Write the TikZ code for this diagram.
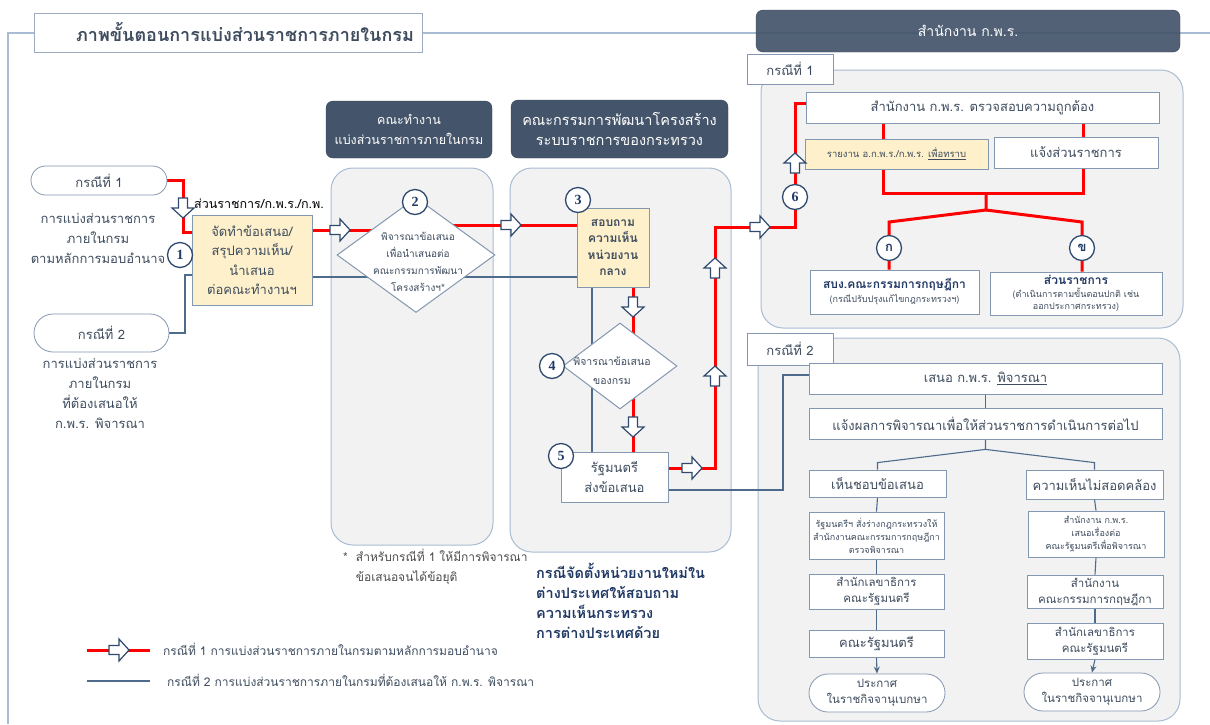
\documentclass[tikz,border=0pt]{standalone}
\usepackage{fontspec}
\setmainfont[Script=Thai]{Loma}
\newfontfamily\numfont{Liberation Serif}
\usetikzlibrary{shapes.geometric,shapes.misc,arrows.meta,calc}
\pgfdeclarelayer{panel}
\pgfdeclarelayer{bg}
\pgfsetlayers{panel,bg,main}
\definecolor{txt}{HTML}{3E4C5E}
\definecolor{hdrc}{HTML}{44546A}
\definecolor{pnl}{HTML}{F2F2F2}
\definecolor{pnld}{HTML}{A9BCD3}
\definecolor{boxc}{HTML}{8497B0}
\definecolor{bl}{HTML}{4F6B8C}
\definecolor{arrc}{HTML}{2F4A6E}
\definecolor{yel}{HTML}{FDF0CA}
\definecolor{navy}{HTML}{1F3864}
\definecolor{redc}{HTML}{FF0000}
\newcommand\myfs[2]{\fontsize{#1}{#2}\selectfont}
\begin{document}
\begin{tikzpicture}[x=1pt,y=-1pt,
  box/.style={draw=boxc, fill=white, line width=0.8pt, align=center, text=txt, inner sep=1pt, font=\myfs{12}{16}},
  ybox/.style={box, fill=yel},
  oval/.style={box, rounded rectangle},
  hdr/.style={fill=hdrc, draw=hdrc!85!black, rounded corners=7pt, text=white, align=center, font=\myfs{14}{20}},
  panelbox/.style={fill=pnl, draw=pnld, line width=1pt, rounded corners=22pt},
  num/.style={circle, draw=arrc, fill=white, line width=1.3pt, minimum size=25pt, inner sep=0pt, text=navy, font=\numfont\bfseries\myfs{14}{14}},
  tnum/.style={num, font=\bfseries\myfs{13}{13}},
  plain/.style={align=center, text=txt, inner sep=0pt},
  redl/.style={draw=redc, line width=3pt},
  bluel/.style={draw=bl, line width=1.1pt},
  framel/.style={draw=pnld, line width=1.2pt},
  harrow/.pic={\draw[draw=arrc, fill=white, line width=1.2pt, line join=miter]
     (-10,-4.5) -- (0,-4.5) -- (0,-11) -- (10,0) -- (0,11) -- (0,4.5) -- (-10,4.5) -- cycle;}
]
\useasboundingbox (0,0) rectangle (1210,724);

% ---------- panels / frame ----------
\begin{pgfonlayer}{panel}
\draw[framel] (1210,33) -- (8,33) -- (8,724);
\node[panelbox, minimum width=162pt, minimum height=377pt] (p1) at (412,356.5) {};
\node[panelbox, minimum width=221pt, minimum height=384pt] (p2) at (620.5,360) {};
\node[panelbox, minimum width=422pt, minimum height=258pt] (pc1) at (972,199) {};
\node[panelbox, minimum width=422pt, minimum height=383pt] (pc2) at (969,529.5) {};
\end{pgfonlayer}

% ---------- headers ----------
\node[box, draw=boxc!80, minimum width=388pt, minimum height=39pt, font=\bfseries\myfs{18}{20}] (title) at (228,32.5) {\hspace*{34pt}ภาพขั้นตอนการแบ่งส่วนราชการภายในกรม};
\node[hdr, minimum width=166pt, minimum height=57pt, font=\myfs{12.5}{20}] (h1) at (409,129.5) {คณะทำงาน\\แบ่งส่วนราชการภายในกรม};
\node[hdr, minimum width=217pt, minimum height=58pt, font=\myfs{14.5}{20}] (h2) at (619.5,129) {คณะกรรมการพัฒนาโครงสร้าง\\ระบบราชการของกระทรวง};
\node[hdr, fill opacity=0.92, text opacity=1, minimum width=424pt, minimum height=42pt] (h3) at (968,31) {สำนักงาน ก.พ.ร.};
\node[box, minimum width=86pt, minimum height=30pt, font=\myfs{13}{16}] (lab1) at (790,69) {กรณีที่ 1};
\node[box, minimum width=86pt, minimum height=32pt, font=\myfs{13}{16}] (lab2) at (790,349) {กรณีที่ 2};

% ---------- left ----------
\node[oval, minimum width=138pt, minimum height=29pt, font=\myfs{13}{16}] (o1) at (99,180.5) {กรณีที่ 1};
\node[plain, font=\myfs{13}{20}] (t1) at (98,238) {การแบ่งส่วนราชการ\\ภายในกรม\\ตามหลักการมอบอำนาจ};
\node[oval, minimum width=137pt, minimum height=38pt, font=\myfs{13}{16}] (o2) at (101.5,333) {กรณีที่ 2};
\node[plain, font=\myfs{13}{20}] (t2) at (100,393) {การแบ่งส่วนราชการ\\ภายในกรม\\ที่ต้องเสนอให้\\ก.พ.ร. พิจารณา};
\node[ybox, minimum width=120pt, minimum height=90pt, font=\myfs{13}{19.5}] (b1) at (252,260) {จัดทำข้อเสนอ/\\สรุปความเห็น/\\นำเสนอ\\ต่อคณะทำงานฯ};
\node[plain, anchor=west, text=black, font=\myfs{12.5}{14}] (lb1) at (194,204) {ส่วนราชการ/ก.พ.ร./ก.พ.};
\node[num] (c1) at (180,255) {1};

% ---------- column 2 ----------
\node[diamond, draw=boxc, fill=white, line width=1pt, minimum width=158pt, minimum height=115pt, inner sep=0pt] (d2) at (416,255) {};
\node[plain, font=\myfs{10}{17}] (d2t) at (418,262) {พิจารณาข้อเสนอ\\เพื่อนำเสนอต่อ\\คณะกรรมการพัฒนา\\โครงสร้างฯ*};
\node[num] (c2) at (415,202) {2};

% ---------- column 3 ----------
\node[ybox, minimum width=72pt, minimum height=79pt, font=\bfseries\myfs{12}{16.5}] (b3) at (613,247.5) {สอบถาม\\ความเห็น\\หน่วยงาน\\กลาง};
\node[num] (c3) at (578,200) {3};
\node[diamond, draw=boxc, fill=white, line width=1pt, minimum width=114pt, minimum height=86pt, inner sep=0pt] (d4) at (620,366) {};
\node[plain, font=\myfs{10.5}{19}] (d4t) at (612,371) {พิจารณาข้อเสนอ\\ของกรม};
\node[num] (c4) at (552,366) {4};
\node[box, minimum width=107pt, minimum height=50pt, font=\myfs{13}{20}] (b5) at (614.5,477) {รัฐมนตรี\\ส่งข้อเสนอ};
\node[num] (c5) at (561,456) {5};

% ---------- case 1 (right) ----------
\node[box, minimum width=353pt, minimum height=31pt, font=\myfs{13}{16}] (k1) at (982.5,107.5) {สำนักงาน ก.พ.ร. ตรวจสอบความถูกต้อง};
\node[ybox, minimum width=183pt, minimum height=30pt, font=\myfs{9.5}{12}] (k2) at (896.5,154) {รายงาน อ.ก.พ.ร./ก.พ.ร. \underline{เพื่อทราบ}};
\node[box, minimum width=164pt, minimum height=31pt, font=\myfs{13}{16}] (k3) at (1076,152.5) {แจ้งส่วนราชการ};
\node[num] (c6) at (795,197) {6};
\node[tnum] (ka) at (889,248) {ก};
\node[tnum] (kb) at (1082,248) {ข};
\node[box, minimum width=169pt, minimum height=44pt, font=\myfs{9}{14}] (ba) at (894.5,292) {{\bfseries\color{navy}\myfs{12}{14}สบง.คณะกรรมการกฤษฎีกา}\\(กรณีปรับปรุงแก้ไขกฎกระทรวงฯ)};
\node[box, minimum width=172pt, minimum height=43pt, font=\myfs{9}{12.5}] (bb) at (1076,293.5) {{\bfseries\color{navy}\myfs{12}{14}ส่วนราชการ}\\(ดำเนินการตามขั้นตอนปกติ เช่น\\ออกประกาศกระทรวง)};

% ---------- case 2 (right) ----------
\node[box, minimum width=353pt, minimum height=31pt, font=\myfs{13}{16}] (m1) at (985.5,378.5) {เสนอ ก.พ.ร. \underline{พิจารณา}};
\node[box, minimum width=353pt, minimum height=31pt, font=\myfs{13}{16}] (m2) at (985.5,423.5) {แจ้งผลการพิจารณาเพื่อให้ส่วนราชการดำเนินการต่อไป};
\node[box, minimum width=137pt, minimum height=27pt, font=\myfs{13}{16}] (l1) at (877.5,483.5) {เห็นชอบข้อเสนอ};
\node[box, minimum width=135pt, minimum height=47pt, font=\myfs{9}{13}] (l2) at (876.5,535.5) {รัฐมนตรีฯ สั่งร่างกฎกระทรวงให้\\สำนักงานคณะกรรมการกฤษฎีกา\\ตรวจพิจารณา};
\node[box, minimum width=135pt, minimum height=35pt, font=\myfs{11.5}{16}] (l3) at (876.5,591.5) {สำนักเลขาธิการ\\คณะรัฐมนตรี};
\node[box, minimum width=135pt, minimum height=27pt, font=\myfs{13}{16}] (l4) at (876.5,643.5) {คณะรัฐมนตรี};
\node[oval, minimum width=138pt, minimum height=38pt, font=\myfs{11.5}{16}] (l5) at (877,693) {ประกาศ\\ในราชกิจจานุเบกษา};
\node[box, minimum width=137pt, minimum height=29pt, font=\myfs{13}{16}] (r1) at (1094.5,484.5) {ความเห็นไม่สอดคล้อง};
\node[box, minimum width=136pt, minimum height=46pt, font=\myfs{9}{13}] (r2) at (1096,534) {สำนักงาน ก.พ.ร.\\เสนอเรื่องต่อ\\คณะรัฐมนตรีเพื่อพิจารณา};
\node[box, minimum width=136pt, minimum height=33pt, font=\myfs{11.5}{16}] (r3) at (1095,591.5) {สำนักงาน\\คณะกรรมการกฤษฎีกา};
\node[box, minimum width=136pt, minimum height=36pt, font=\myfs{11.5}{16}] (r4) at (1095,641) {สำนักเลขาธิการ\\คณะรัฐมนตรี};
\node[oval, minimum width=138pt, minimum height=38pt, font=\myfs{11.5}{16}] (r5) at (1092,692) {ประกาศ\\ในราชกิจจานุเบกษา};

% ---------- notes ----------
\node[plain, anchor=north west, align=left, text=black!70, font=\myfs{12}{20}] (note1) at (343,549) {*\ \ สำหรับกรณีที่ 1 ให้มีการพิจารณา\\\phantom{*\ \ }ข้อเสนอจนได้ข้อยุติ};
\node[plain, anchor=north west, align=left, text=navy, font=\bfseries\myfs{14.5}{20}] (note2) at (536,563) {กรณีจัดตั้งหน่วยงานใหม่ใน\\ต่างประเทศให้สอบถาม\\ความเห็นกระทรวง\\การต่างประเทศด้วย};

% ---------- legend ----------
\coordinate (lg1a) at (87,650);
\coordinate (lg1b) at (150,650);
\coordinate (lg2a) at (87,681);
\coordinate (lg2b) at (150,681);
\node[plain, anchor=west, font=\myfs{12}{14}] (lgt1) at (163,649) {กรณีที่ 1 การแบ่งส่วนราชการภายในกรมตามหลักการมอบอำนาจ};
\node[plain, anchor=west, font=\myfs{12}{14}] (lgt2) at (167,680) {กรณีที่ 2 การแบ่งส่วนราชการภายในกรมที่ต้องเสนอให้ ก.พ.ร. พิจารณา};

% ---------- connectors ----------
\begin{pgfonlayer}{bg}
% red, case 1 path
\draw[redl] (o1.east) -- (183,180.5) -- (183,232) -- (b1.west |- 0,232);
\draw[redl] (b1.east |- 0,230) -- (d2.center |- 0,230);
\draw[redl] (d2.center |- 0,225) -- (b3.west |- 0,225);
\draw[redl] (b3.south -| 633,0) -- (b5.north -| 633,0);
\draw[redl] (b5.east |- 0,468) -- (715,468) -- (715,227) -- (795,227) -- (795,103) -- (k1.west |- 0,103);
\draw[redl] (k1.south -| 883,0) -- (883,193) -- (1083,193) -- (k1.south -| 1083,0);
\draw[redl] (986,193) -- (986,210) -- (889,222) -- (ba.north -| 889,0);
\draw[redl] (986,210) -- (1082,222) -- (bb.north -| 1082,0);
\draw[redl] (lg1a) -- (lg1b);
% blue, case 2 path
\draw[bluel] (o2.east) -- (185,333) -- (185,275) -- (b1.west |- 0,275);
\draw[bluel] (b1.east |- 0,277) -- (b3.west |- 0,277);
\draw[bluel] (b3.south -| 592,0) -- (b5.north -| 592,0);
\draw[bluel] (b5.east |- 0,490) -- (783,490) -- (783,375) -- (m1.west |- 0,375);
\draw[bluel] (m1.south) -- (m2.north);
\draw[bluel] (m2.south) -- ++(0,10) coordinate (sp) -- ($(l1.north)+(0,-7)$) -- (l1.north);
\draw[bluel] (sp) -- ($(r1.north)+(0,-7)$) -- (r1.north);
\draw[bluel] (l1.south) -- (l2.north);
\draw[bluel] (l2.south) -- (l3.north);
\draw[bluel] (l3.south) -- (l4.north);
\draw[bluel, -{Stealth[length=7pt,width=6pt]}] (l4.south) -- (l5.north);
\draw[bluel] (r1.south) -- (r2.north);
\draw[bluel] (r2.south) -- (r3.north);
\draw[bluel] (r3.south) -- (r4.north);
\draw[bluel, -{Stealth[length=7pt,width=6pt]}] (r4.south) -- (r5.north);
\draw[bluel] (lg2a) -- (lg2b);
\end{pgfonlayer}

% ---------- hollow arrows ----------
\pic[rotate=-90] at (183,208) {harrow};
\pic at (340,230) {harrow};
\pic at (511,225) {harrow};
\pic[rotate=-90] at (633,307) {harrow};
\pic[rotate=-90] at (633,427) {harrow};
\pic at (692,468) {harrow};
\pic[rotate=90] at (715,268) {harrow};
\pic[rotate=90] at (715,376) {harrow};
\pic at (760,227) {harrow};
\pic[rotate=90] at (795,163) {harrow};
\pic at (119,650) {harrow};
\end{tikzpicture}
\end{document}
